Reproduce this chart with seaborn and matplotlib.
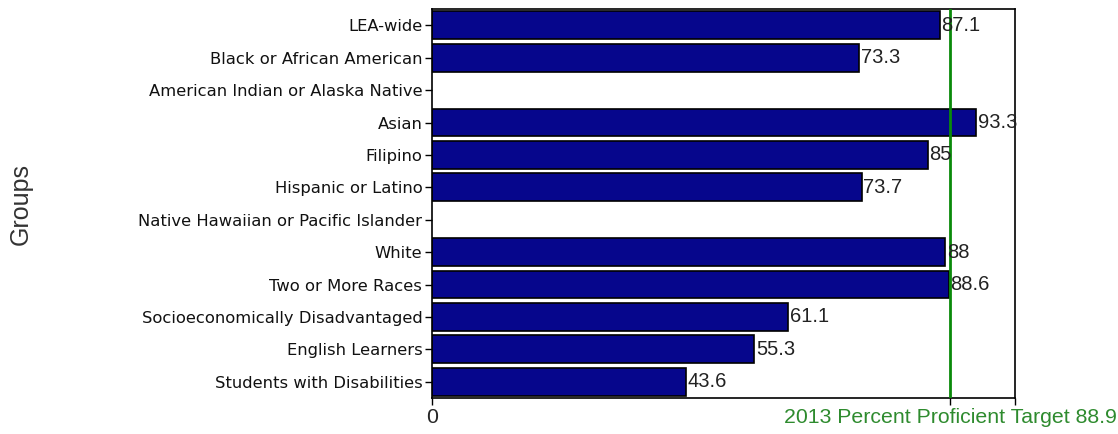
import matplotlib
matplotlib.use("Agg")
import matplotlib.pyplot as plt
import seaborn as sns
import numpy as np
import pandas as pd

categories = ["LEA-wide", "Black or African American", "American Indian or Alaska Native",
              "Asian", "Filipino", "Hispanic or Latino", "Native Hawaiian or Pacific Islander",
              "White", "Two or More Races", "Socioeconomically Disadvantaged",
              "English Learners", "Students with Disabilities"]
values = [87.1, 73.3, np.nan, 93.3, 85, 73.7, np.nan, 88, 88.6, 61.1, 55.3, 43.6]
target = 88.9
target_label = "2013 Percent Proficient Target 88.9"

sns.set_style("white")
plt.rcParams['font.family'] = ['Liberation Sans', 'DejaVu Sans']

df = pd.DataFrame({"Group": categories, "Value": values})

fig = plt.figure(figsize=(11.18, 4.34), dpi=100)
ax = fig.add_axes([0.3864, 0.083, 0.5215, 0.896])

sns.barplot(data=df, y="Group", x="Value", order=categories, orient="h",
            color="#06068c", saturation=1, edgecolor="black", linewidth=1.2,
            width=0.86, ax=ax)

ax.set_xlim(0, 100)
ax.axvline(target, color="#0a8a0a", linewidth=2, zorder=3)

for i, v in enumerate(values):
    if not np.isnan(v):
        ax.text(v + 0.3, i, f"{v:g}", va="center", ha="left", fontsize=14.5,
                color="#222222", zorder=4)

ax.set_xticks([0, target, 100])
ax.set_xticklabels(["0", target_label, ""])
ax.get_xticklabels()[1].set_color("#2e8b2e")
for lbl in ax.get_xticklabels():
    lbl.set_fontsize(15.3)
ax.tick_params(axis="x", length=5, width=1, color="black", direction="out", bottom=True, pad=2)
ax.tick_params(axis="y", length=5, width=1, color="black", direction="out", left=True, pad=2)
for lbl in ax.get_yticklabels():
    lbl.set_fontfamily("DejaVu Sans")
    lbl.set_fontsize(11.8)
    lbl.set_color("#111111")

for s in ax.spines.values():
    s.set_visible(True)
    s.set_color("black")
    s.set_linewidth(1.2)

ax.set_xlabel("")
ax.set_ylabel("Groups", fontsize=18, color="#333333", labelpad=0)
ax.yaxis.set_label_coords(-0.685, 0.5)

fig.savefig("out.png", dpi=100)
